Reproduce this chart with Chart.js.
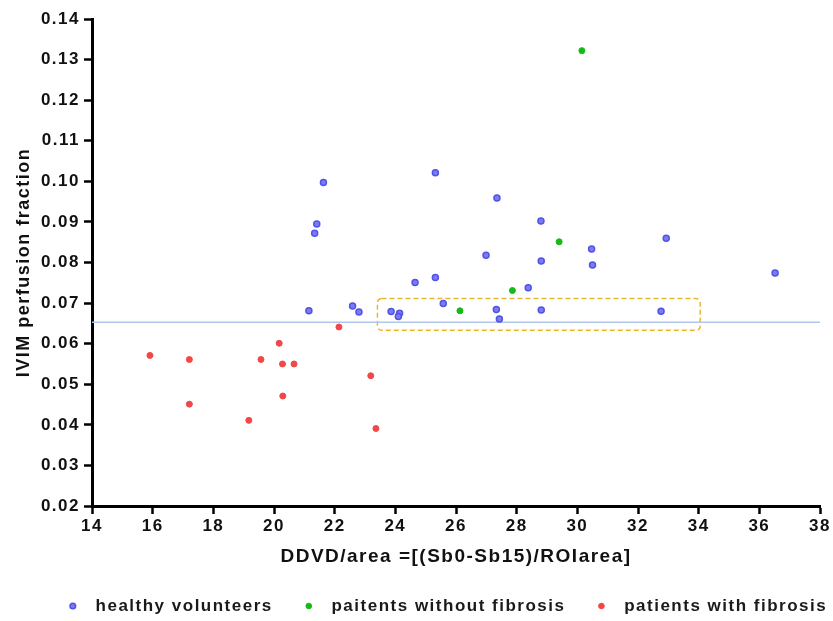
<!DOCTYPE html>
<html>
<head>
<meta charset="utf-8">
<title>IVIM perfusion fraction vs DDVD/area</title>
<script src="https://cdn.jsdelivr.net/npm/chart.js@4.4.1/dist/chart.umd.min.js"></script>
<style>
    html, body { margin: 0; padding: 0; background: #fff; }
    canvas { display: block; }
</style>
</head>
<body>
<canvas id="scatter" width="833" height="621"></canvas>
<script>
// Values
const healthyX = [21.63, 21.41, 21.34, 25.32, 27.35, 28.80, 26.99, 28.81, 25.32, 24.65, 30.47, 30.50, 36.52,
                  32.93, 21.15, 22.59, 22.80, 23.86, 24.14, 24.10, 25.58, 27.33, 27.43, 28.38, 28.81, 32.76];
const healthyY = [0.0997, 0.0895, 0.0872, 0.1021, 0.0959, 0.0902, 0.0818, 0.0804, 0.0763, 0.0751, 0.0833, 0.0794, 0.0774,
                  0.0860, 0.0681, 0.0693, 0.0678, 0.0679, 0.0675, 0.0667, 0.0699, 0.0684, 0.0661, 0.0738, 0.0683, 0.0680];

const noFibrosisX = [30.15, 29.40, 27.86, 26.13];
const noFibrosisY = [0.1322, 0.0851, 0.0731, 0.0681];

const fibrosisX = [15.91, 17.21, 17.21, 19.17, 19.57, 20.17, 20.28, 20.66, 20.29, 22.14, 23.19, 23.36];
const fibrosisY = [0.0571, 0.0561, 0.0451, 0.0411, 0.0561, 0.0601, 0.0550, 0.0550, 0.0471, 0.0641, 0.0521, 0.0391];

const seriesLabels = ['healthy volunteers', 'paitents without fibrosis', 'patients with fibrosis'];

// cut-off line and highlighted region (data units)
const cutoffValue = 0.0653;
const boxX = [23.41, 34.05];
const boxY = [0.0633, 0.0711];

const xRange = [14, 38];
const yRange = [0.02, 0.14];

const toPoints = (xs, ys) => xs.map((x, i) => ({ x: x, y: ys[i] }));

const FONT = '"Liberation Sans", Arial, Helvetica, sans-serif';

// canvas letter spacing, the original text is rather wide
const spacingPlugin = {
    id: 'spacing',
    beforeLayout(chart) { chart.ctx.letterSpacing = '1.5px'; },
    beforeDraw(chart) { chart.ctx.letterSpacing = '1.5px'; },
    afterLayout(chart) {
        // push the legend row to the right like in the figure
        const lg = chart.legend;
        if (lg) {
            lg.left += 30;
            lg.right += 42;
        }
    }
};

const boxPlugin = {
    id: 'dashedBox',
    beforeDatasetsDraw(chart) {
        const { ctx, scales: { x, y } } = chart;
        const left = x.getPixelForValue(boxX[0]);
        const right = x.getPixelForValue(boxX[1]);
        const top = y.getPixelForValue(boxY[1]);
        const bottom = y.getPixelForValue(boxY[0]);
        ctx.save();
        ctx.strokeStyle = '#e9b832';
        ctx.lineWidth = 1.5;
        ctx.setLineDash([5, 3]);
        ctx.beginPath();
        ctx.roundRect(left, top, right - left, bottom - top, 4);
        ctx.stroke();
        ctx.restore();
    }
};

const tickFont = { family: FONT, size: 17, weight: 'bold' };

new Chart(document.getElementById('scatter'), {
    type: 'scatter',
    data: {
        datasets: [
            {
                label: seriesLabels[0],
                data: toPoints(healthyX, healthyY),
                backgroundColor: '#7c7cf2',
                borderColor: '#5252e6',
                borderWidth: 1.5,
                pointRadius: 3,
                order: 0
            },
            {
                label: seriesLabels[1],
                data: toPoints(noFibrosisX, noFibrosisY),
                backgroundColor: '#14bb14',
                borderColor: '#14bb14',
                borderWidth: 1,
                pointRadius: 3,
                order: 0
            },
            {
                label: seriesLabels[2],
                data: toPoints(fibrosisX, fibrosisY),
                backgroundColor: '#f04848',
                borderColor: '#f04848',
                borderWidth: 1,
                pointRadius: 3,
                order: 0
            },
            {
                type: 'line',
                label: 'cutoff',
                data: [{ x: xRange[0], y: cutoffValue }, { x: xRange[1], y: cutoffValue }],
                borderColor: '#b0c6ec',
                borderWidth: 1.5,
                pointRadius: 0,
                fill: false,
                order: 1
            }
        ]
    },
    options: {
        responsive: false,
        animation: false,
        layout: { padding: { top: 19, left: 0, right: 13, bottom: -3.5 } },
        plugins: {
            tooltip: { enabled: false },
            legend: {
                position: 'bottom',
                labels: {
                    usePointStyle: true,
                    boxWidth: 16,
                    boxHeight: 4,
                    padding: 28,
                    color: '#1a1a1a',
                    font: { family: FONT, size: 17, weight: 'bold' },
                    filter: item => item.datasetIndex < 3,
                    generateLabels(chart) {
                        const items = Chart.defaults.plugins.legend.labels.generateLabels(chart);
                        items.forEach(it => { it.text = ' ' + it.text; });
                        return items;
                    }
                }
            }
        },
        scales: {
            x: {
                type: 'linear',
                min: xRange[0],
                max: xRange[1],
                afterFit(scale) { scale.height = 63.5; },
                ticks: { stepSize: 2, color: '#111', font: tickFont, padding: 2, maxRotation: 0 },
                grid: { drawOnChartArea: false, tickLength: 8, tickWidth: 2.5, tickColor: '#000' },
                border: { color: '#000', width: 3 },
                title: {
                    display: true,
                    text: 'DDVD/area =[(Sb0-Sb15)/ROIarea]',
                    color: '#111',
                    font: { family: FONT, size: 19, weight: 'bold' },
                    padding: { top: 0, bottom: 1 }
                }
            },
            y: {
                type: 'linear',
                min: yRange[0],
                max: yRange[1],
                afterFit(scale) { scale.width = 92; },
                ticks: {
                    stepSize: 0.01,
                    color: '#111',
                    font: tickFont,
                    padding: 4,
                    callback: v => v.toFixed(2)
                },
                grid: { drawOnChartArea: false, tickLength: 8, tickWidth: 2.5, tickColor: '#000' },
                border: { color: '#000', width: 3 },
                title: {
                    display: true,
                    text: 'IVIM perfusion fraction',
                    color: '#111',
                    font: { family: FONT, size: 18, weight: 'bold' },
                    padding: { top: 13, bottom: 0 }
                }
            }
        }
    },
    plugins: [spacingPlugin, boxPlugin]
});
</script>
</body>
</html>
